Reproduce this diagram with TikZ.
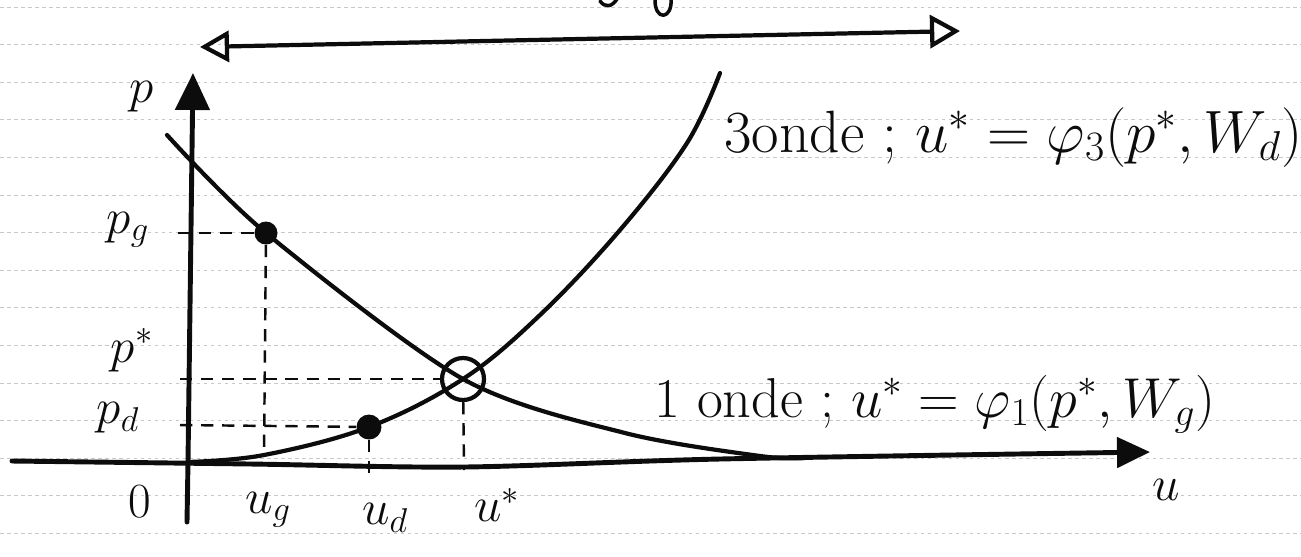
\RequirePackage{fix-cm}
\documentclass[tikz,border=0pt]{standalone}
\usepackage{amsmath}
\usetikzlibrary{arrows.meta}
\definecolor{ink}{RGB}{12,12,12}
\definecolor{ruleline}{RGB}{200,200,200}

\begin{document}
\begin{tikzpicture}[x=0.02cm, y=-0.02cm,
  pen/.style={draw=ink, line width=2.4pt, line cap=round, line join=round},
  guide/.style={draw=ink, line width=1.4pt, dash pattern=on 7pt off 5pt},
  lbl/.style={font=\fontsize{28}{30}\selectfont, inner sep=0pt, text=ink},
  wave/.style={lbl, font=\fontsize{32}{34}\selectfont, anchor=base west},
  dot/.style={circle, fill=ink, inner sep=0pt, minimum size=0.46cm},
  ruling/.style={draw=ruleline, line width=0.5pt, dash pattern=on 2pt off 2pt}]
  \useasboundingbox (0,0) rectangle (1301,556);
  % notebook rulings
  \foreach \k in {0,...,14}
    \draw[ruling] (0,7+37.6*\k) -- (1301,7+37.6*\k);
  % cut-off letters at the top edge
  \draw[pen, line width=2pt] (655,-2) .. controls (654,22) and (673,20) .. (671,-2);
  \draw[pen, line width=2pt] (600,1) .. controls (605,8) and (612,7) .. (617,-1);

  % axes
  \coordinate (O) at (188,462);
  \coordinate (Pbot) at (187,522);
  \coordinate (Ptop) at (193,73);
  \draw[pen, line width=2.8pt, -{Triangle[length=0.74cm, width=0.68cm]}] (Pbot) -- (O) -- (Ptop);
  \draw[pen, line width=2.8pt, -{Triangle[length=0.66cm, width=0.6cm]}]
    plot[smooth] coordinates {(12,461) (250,464) (464,467) (720,459) (1150,452)};

  % top double arrow
  \coordinate (Aleft) at (200,47);
  \coordinate (Aright) at (960,31);
  \draw[pen, {Triangle[open, length=0.58cm, width=0.62cm]}-{Triangle[open, length=0.6cm, width=0.66cm]}] (Aleft) -- (Aright);

  % the two waves
  \draw[pen] plot[smooth] coordinates {(167,135) (266,233) (463,379) (625,433) (760,456) (805,458)};
  \draw[pen] plot[smooth, tension=0.6] coordinates {(188,462) (264,455) (369,427) (463,379) (540,315) (620,230) (687,143) (720,73)};

  % states
  \node[dot] (Dg) at (266,233) {};
  \node[dot, minimum size=0.5cm] (Dd) at (369,427) {};
  \node[circle, draw=ink, line width=2.4pt, minimum size=0.84cm] (Star) at (463,379) {};

  % projections
  \coordinate (Yg) at (178,233);
  \coordinate (Ys) at (180,379);
  \coordinate (Yd) at (180,425);
  \coordinate (Xg) at (264,456);
  \coordinate (Xd) at (369,476);
  \coordinate (Xs) at (464,470);
  \draw[guide] (Yg) -- (Dg);
  \draw[guide] (Dg) -- (Xg);
  \draw[guide] (Ys) -- (Star);
  \draw[guide] (Yd) -- (Dd);
  \draw[guide] (Dd) -- (Xd);
  \draw[guide] (Star) -- (Xs);

  % labels
  \node[lbl] (Lp) at (142,97) {$p$};
  \node[lbl] (Lpg) at (128,230) {$p_g$};
  \node[lbl] (Lps) at (132,350) {$p^*$};
  \node[lbl] (Lpd) at (118,418) {$p_d$};
  \node[lbl] (Lzero) at (140,502) {$0$};
  \node[lbl] (Lug) at (268,510) {$u_g$};
  \node[lbl] (Lud) at (385,518) {$u_d$};
  \node[lbl] (Lus) at (497,505) {$u^*$};
  \node[lbl] (Lu) at (1166,490) {$u$};
  \node[wave, font=\fontsize{34}{36}\selectfont] (Lwave3) at (724,152) {3onde ; $u^* = \varphi_3(p^*, W_d)$};
  \node[wave] (Lwave1) at (654,417) {1 onde ; $u^* = \varphi_1(p^*, W_g)$};
\end{tikzpicture}
\end{document}
